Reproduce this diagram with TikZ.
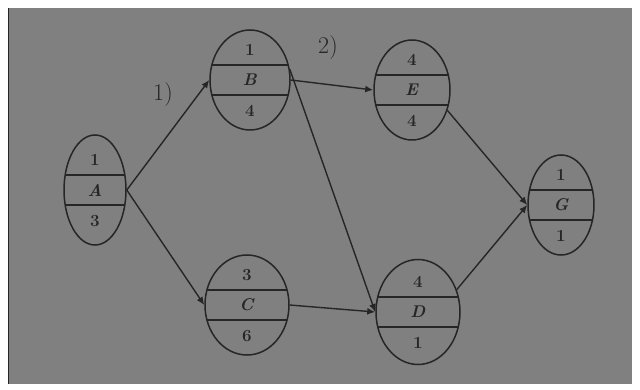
\documentclass[tikz,border=0pt]{standalone}
\usetikzlibrary{shapes.geometric,arrows.meta}
\definecolor{bg}{RGB}{128,128,128}
\definecolor{ink}{RGB}{38,38,38}
\begin{document}
\begin{tikzpicture}[x=1pt,y=-1pt,
  ev/.style={ellipse,draw=ink,line width=1.5pt,minimum width=#1,minimum height=100pt,inner sep=0pt,
    path picture={
      \draw[ink,line width=1.3pt] ([yshift=15pt]path picture bounding box.west) -- ([yshift=15pt]path picture bounding box.east);
      \draw[ink,line width=1.3pt] ([yshift=-15pt]path picture bounding box.west) -- ([yshift=-15pt]path picture bounding box.east);
    }},
  lnk/.style={draw=ink,line width=1.4pt,-{Latex[length=8pt,width=7pt]}},
  lab/.style={text=ink,font=\fontsize{17}{19}\selectfont\bfseries}]
\useasboundingbox (0,0) rectangle (640,390);
\fill[white] (0,0) rectangle (640,390);
\fill[bg] (8,8) rectangle (632,384);
\draw[ink,line width=1pt] (8,8) -- (8,384);
% nodes
\node[ev=62pt,minimum height=110pt] (A) at (95,190) {};
\node[ev=80pt] (B) at (250,80) {};
\node[ev=76pt] (E) at (412,90) {};
\node[ev=84pt] (C) at (247,305) {};
\node[ev=84pt,minimum height=105pt] (D) at (418,312) {};
\node[ev=66pt] (G) at (561,205) {};
% texts
\foreach \n/\t/\m/\b in {A/1/A/3,B/1/B/4,E/4/E/4,C/3/C/6,D/4/D/1,G/1/G/1}{
  \node[lab] (\n t) at ([yshift=30pt]\n.center) {\t};
  \node[lab] (\n m) at (\n.center) {\textit{\m}};
  \node[lab] (\n b) at ([yshift=-31pt]\n.center) {\b};
}
% arrows
\draw[lnk] (A.east) -- (B.west);
\draw[lnk] (A.east) -- (C.west);
\draw[lnk] (B.east) -- (E.west);
\draw[lnk] (B.15) -- (D.west);
\draw[lnk] (C.east) -- (D.west);
\draw[lnk] (E.-30) -- (G.west);
\draw[lnk] (D.30) -- (G.west);
% edge labels
\node[lab,font=\fontsize{24}{26}\selectfont] (l1) at (163,95) {1)};
\node[lab,font=\fontsize{24}{26}\selectfont] (l2) at (328,48) {2)};
\end{tikzpicture}
\end{document}
